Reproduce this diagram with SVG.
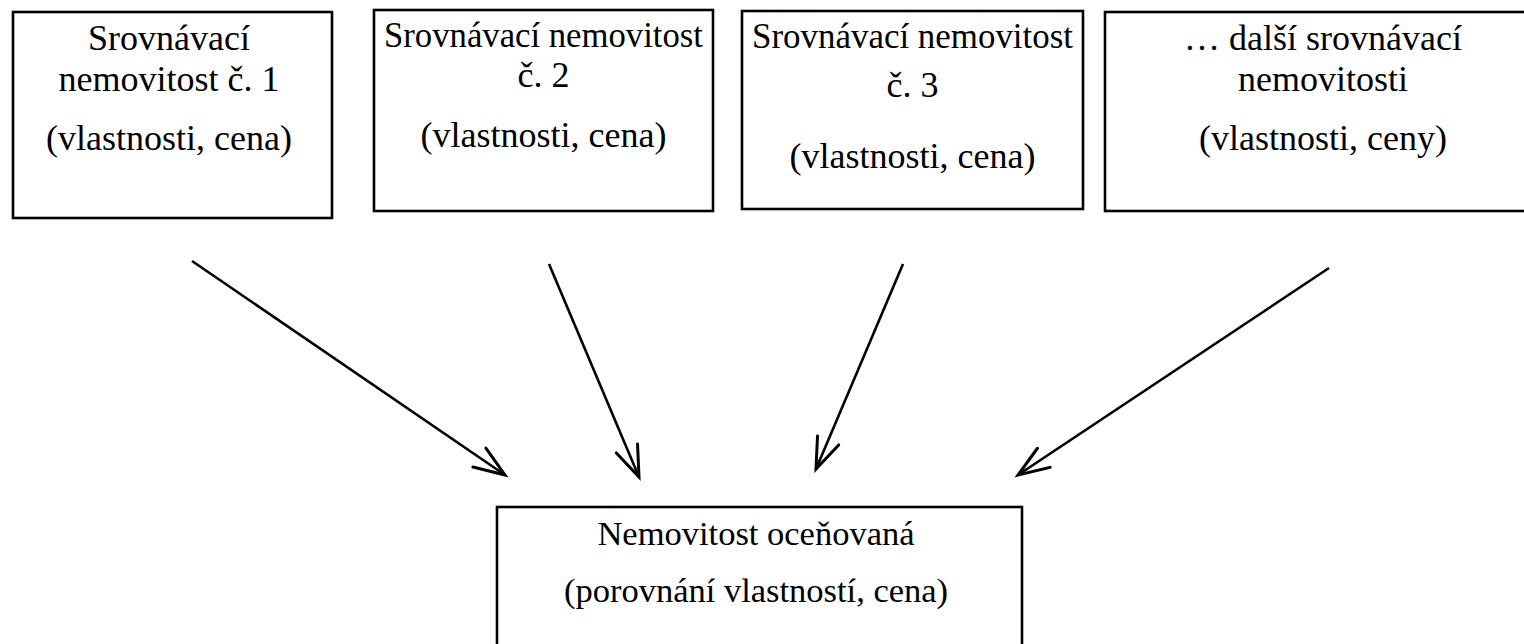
<svg xmlns="http://www.w3.org/2000/svg" width="1524" height="644" viewBox="0 0 1524 644">
<style>
.box{fill:#fff;stroke:#000;stroke-width:2.6}
.t{font-family:"Liberation Serif","Times New Roman",serif;font-size:36px;fill:#000;text-anchor:middle}
.b{font-size:34.5px}
.c{fill:none;stroke:#000;stroke-width:2.6}
</style>
<defs>
<marker id="arr" markerUnits="userSpaceOnUse" markerWidth="40" markerHeight="30" refX="34" refY="15" orient="auto" overflow="visible">
<path d="M3,3.5 L34,15 L3,26.5" fill="none" stroke="#000" stroke-width="3" stroke-linecap="round" stroke-linejoin="miter"/>
</marker>
</defs>
<rect width="1524" height="644" fill="#fff"/>
<g id="node1">
<rect class="box" x="13" y="12" width="319" height="206"/>
<text class="t" x="169" y="50">Srovnávací</text>
<text class="t" x="169" y="91">nemovitost č. 1</text>
<text class="t" x="169" y="150">(vlastnosti, cena)</text>
</g>
<g id="node2">
<rect class="box" x="374" y="10" width="339" height="201"/>
<text class="t" x="543.5" y="47" textLength="319" lengthAdjust="spacingAndGlyphs">Srovnávací nemovitost</text>
<text class="t" x="543.5" y="87">č. 2</text>
<text class="t" x="543.5" y="147">(vlastnosti, cena)</text>
</g>
<g id="node3">
<rect class="box" x="742" y="11" width="341" height="198"/>
<text class="t" x="912.5" y="48" textLength="321" lengthAdjust="spacingAndGlyphs">Srovnávací nemovitost</text>
<text class="t" x="912.5" y="97">č. 3</text>
<text class="t" x="912.5" y="168">(vlastnosti, cena)</text>
</g>
<g id="node4">
<rect class="box" x="1105" y="12" width="440" height="199"/>
<text class="t" x="1323" y="50">… další srovnávací</text>
<text class="t" x="1323" y="91">nemovitosti</text>
<text class="t" x="1323" y="150">(vlastnosti, ceny)</text>
</g>
<g id="target">
<rect class="box" x="497" y="507" width="525" height="160"/>
<text class="t b" x="756" y="545">Nemovitost oceňovaná</text>
<text class="t b" x="756" y="602">(porovnání vlastností, cena)</text>
</g>
<g id="connectors">
<line class="c" x1="192" y1="261" x2="505" y2="475" marker-end="url(#arr)"/>
<line class="c" x1="549" y1="264" x2="639" y2="477" marker-end="url(#arr)"/>
<line class="c" x1="903" y1="264" x2="816" y2="469" marker-end="url(#arr)"/>
<line class="c" x1="1329" y1="268" x2="1018" y2="475" marker-end="url(#arr)"/>
</g>
</svg>
